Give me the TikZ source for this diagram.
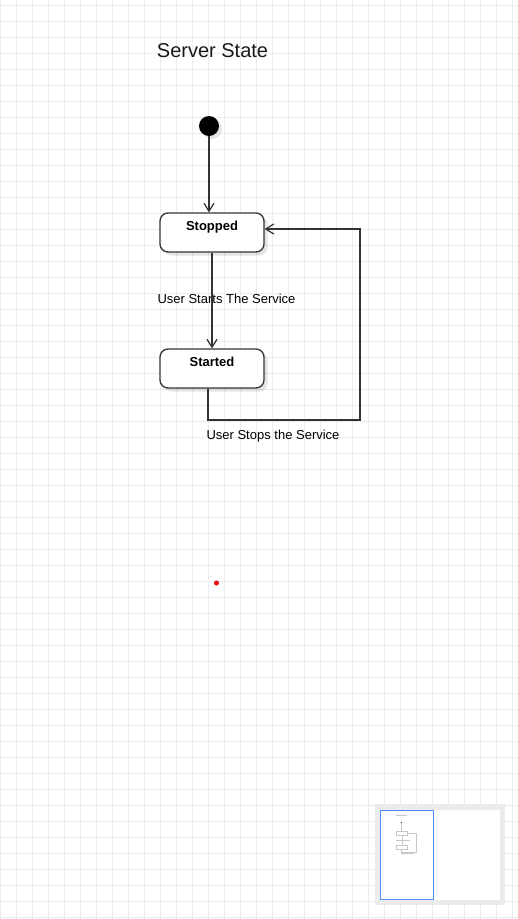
\documentclass[tikz,border=0pt]{standalone}
\usepackage{fontspec}
\setmainfont{Liberation Sans}
\usetikzlibrary{arrows.meta, shadows, positioning}
\definecolor{gridline}{RGB}{236,236,236}
\definecolor{edge}{RGB}{51,51,51}
\definecolor{viewblue}{RGB}{74,144,255}
\definecolor{dotred}{RGB}{230,20,20}
\tikzstyle{state} = [rectangle, rounded corners=8pt, minimum width=104pt, minimum height=39pt, text height=17.2pt, text depth=21.8pt, inner ysep=0pt, draw=edge, line width=1.3pt, fill=white, font=\fontsize{13}{15}\selectfont\bfseries, drop shadow={shadow xshift=3.5pt, shadow yshift=-3.5pt, fill=black, opacity=0.1}]
\tikzstyle{initial} = [circle, minimum size=20pt, inner sep=0pt, fill=black, drop shadow={shadow xshift=3pt, shadow yshift=-3pt, fill=black, opacity=0.1}]
\tikzstyle{lbl} = [anchor=base, inner sep=0pt, font=\fontsize{13}{15}\selectfont]
\tikzstyle{arrow} = [draw=edge, line width=1.2pt, -{Straight Barb[length=8pt, width=10pt]}]

\begin{document}
\begin{tikzpicture}[x=1pt, y=-1pt, node distance=136pt]

    % canvas and grid
    \fill[white] (0,0) rectangle (518,919);
    \useasboundingbox (0,0) rectangle (518,919);
    \foreach \gx in {0,16,...,512} \draw[gridline, line width=1pt] (\gx,0) -- (\gx,919);
    \foreach \gy in {5,21,...,917} \draw[gridline, line width=1pt] (0,\gy) -- (518,\gy);

    \node (title) [anchor=base, inner sep=0pt, font=\fontsize{20}{24}\selectfont, text=black!90] at (212.5,57.7) {Server State};

    \node (init) [initial] at (209,126) {};
    \node (stopped) [state] at (212,232.5) {Stopped};
    \node (started) [state, below of=stopped] {Started};

    \coordinate (loopR) at (360,420);
    \node (startlbl) [lbl] at (226.5,303) {User Starts The Service};
    \node (stoplbl) [lbl] at (273,439) {User Stops the Service};

    \draw [arrow] (init) -- (init |- stopped.north);
    \draw [arrow] (stopped) -- (started);
    \draw [arrow] ([xshift=-4pt]started.south) |- (loopR) |- ([yshift=3.5pt]stopped.east);

    \fill[dotred] (216.5,583) circle (2.6);

    % outline view
    \fill[black!8] (375,804) rectangle (505,905);
    \fill[white] (380,810) rectangle (500,900);
    \begin{scope}[shift={(380.5,810)}, scale=0.1, line width=0.3pt, black!22]
        \fill (157,49) rectangle (268,54);
        \fill[black!70] (209,126) circle (8);
        \draw (209,136) -- (209,213);
        \draw (160,213) rectangle (264,252);
        \draw (212,252) -- (212,349);
        \fill (157,296) rectangle (295,300);
        \draw (160,349) rectangle (264,388);
        \draw (208,388) |- (360,420) |- (264,229);
        \fill (207,432) rectangle (339,436);
    \end{scope}
    \draw[viewblue, line width=1.3pt] (380.7,810.7) rectangle (433.5,899.3);

\end{tikzpicture}
\end{document}
